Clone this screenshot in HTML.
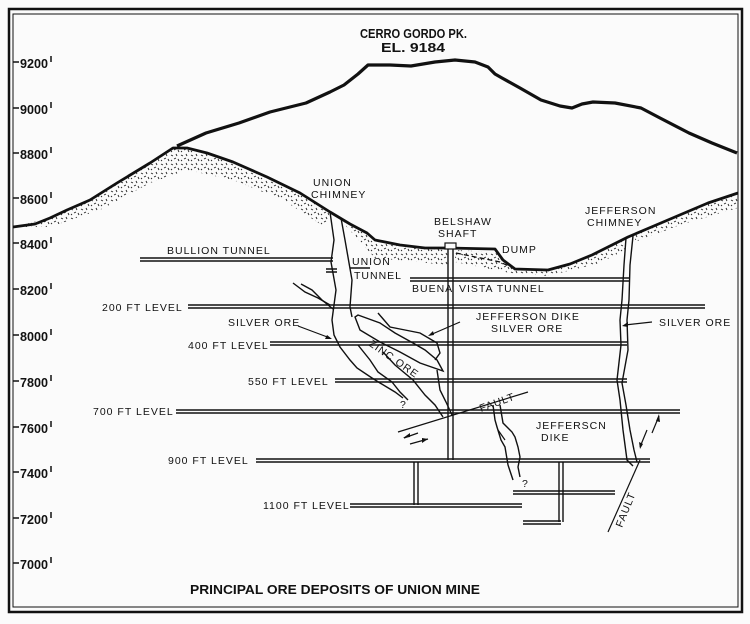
<!DOCTYPE html>
<html><head><meta charset="utf-8"><style>
html,body{margin:0;padding:0;background:#fbfbfb;}
svg{display:block;}
text{font-family:"Liberation Sans",sans-serif;fill:#111;}
.t{font-size:10.5px;letter-spacing:1px;}
.ax{font-size:13px;font-weight:bold;}
</style></head><body>
<svg width="750" height="624" viewBox="0 0 750 624" xmlns="http://www.w3.org/2000/svg">
<defs>
<pattern id="st" width="10" height="9" patternUnits="userSpaceOnUse">
<path d="M1 2l2 1M6 1l1 2M4 6l2-1M8 6l1 2M1 8l1-1" stroke="#222" stroke-width="0.9" fill="none"/>
</pattern>
</defs>
<rect width="750" height="624" fill="#fbfbfb"/>
<rect x="9" y="9" width="733" height="603" fill="none" stroke="#111" stroke-width="2.5"/>
<rect x="13" y="14" width="725" height="593" fill="none" stroke="#111" stroke-width="1"/>
<g stroke="#111" stroke-width="1.5">
<path d="M13 62h6M13 108h6M13 153h6M13 198h6M13 243h6M13 289h6M13 335h6M13 381h6M13 427h6M13 472h6M13 518h6M13 563h6"/>
</g>
<g class="ax">
<text x="20" y="68" textLength="28" lengthAdjust="spacingAndGlyphs">9200</text>
<text x="20" y="114" textLength="28" lengthAdjust="spacingAndGlyphs">9000</text>
<text x="20" y="159" textLength="28" lengthAdjust="spacingAndGlyphs">8800</text>
<text x="20" y="204" textLength="28" lengthAdjust="spacingAndGlyphs">8600</text>
<text x="20" y="249" textLength="28" lengthAdjust="spacingAndGlyphs">8400</text>
<text x="20" y="295" textLength="28" lengthAdjust="spacingAndGlyphs">8200</text>
<text x="20" y="341" textLength="28" lengthAdjust="spacingAndGlyphs">8000</text>
<text x="20" y="387" textLength="28" lengthAdjust="spacingAndGlyphs">7800</text>
<text x="20" y="433" textLength="28" lengthAdjust="spacingAndGlyphs">7600</text>
<text x="20" y="478" textLength="28" lengthAdjust="spacingAndGlyphs">7400</text>
<text x="20" y="524" textLength="28" lengthAdjust="spacingAndGlyphs">7200</text>
<text x="20" y="569" textLength="28" lengthAdjust="spacingAndGlyphs">7000</text>
</g>
<g stroke="#111" stroke-width="1.5">
<path d="M51 56v6M51 102v6M51 147v6M51 192v6M51 237v6M51 283v6M51 329v6M51 375v6M51 421v6M51 466v6M51 512v6M51 557v6"/>
</g>
<path fill="url(#st)" d="M13 227L50 218L67 210L90 200L117 183L150 163L173 148L187 148L207 153L233 162L267 177L300 193L330 212L325 227L283 200L233 180L187 170L150 183L100 210L50 227Z"/>
<path fill="url(#st)" d="M340 218L367 233L375 240L425 248L448 248L448 265L375 258L345 225Z"/>
<path fill="url(#st)" d="M455 250L495 252L503 260L515 269L548 270L592 255L625 240L625 250L600 263L548 276L510 273L455 262Z"/>
<path fill="url(#st)" d="M635 235L675 217L708 203L738 193L738 208L680 225L635 242Z"/>
<path d="M177 146L206 133L239 123L270 112L306 103L330 92L344 85L358 74L368 65L390 65L411 66L435 62L455 60L475 62L488 67L495 74L502 78L520 88L541 100L560 106L572 108L582 104L593 102L615 103L641 108L660 118L689 133L712 143L737 153" fill="none" stroke="#111" stroke-width="3.2" stroke-linejoin="round"/>
<path d="M13 227L35 224L50 218L67 210L90 200L117 183L150 163L173 148L187 148L207 153L233 162L267 177L300 193L330 212L350 224L367 233L375 240L400 245L425 248L448 248L495 249L503 260L515 269L548 270L570 264L592 255L628 237L675 217L708 203L738 193" fill="none" stroke="#111" stroke-width="2.8" stroke-linejoin="round"/>
<path d="M456 253L500 262L515 269" fill="none" stroke="#111" stroke-width="1.3" stroke-dasharray="5 3"/>
<rect x="445" y="243" width="11" height="6" fill="#fbfbfb" stroke="#111" stroke-width="1.2"/>
<g stroke="#111" stroke-width="1.4" fill="none">
<path d="M448 249V460M453 249V460"/>
<path d="M140 258H333M140 261H333"/>
<path d="M326 269H337M326 272H337"/>
<path d="M350 268H370"/>
<path d="M410 278H630M410 281H630"/>
<path d="M188 305H705M188 308H705"/>
<path d="M270 342H627M270 345H627"/>
<path d="M335 379H627M335 382H627"/>
<path d="M176 410H680M176 413H680"/>
<path d="M256 459H650M256 462H650"/>
<path d="M350 504H522M350 507H522"/>
<path d="M513 491H615M513 494H615"/>
<path d="M523 521H561M523 524H561"/>
<path d="M414 462V505M418 462V505"/>
<path d="M559 462V522M563 462V522"/>
<path d="M330 212L334 240L331 262L336 290L332 320L334 335L340 347L350 360L357 368L372 378L380 383L395 392L403 398"/>
<path d="M341 218L345 240L352 280L350 307L352 317"/>
<path d="M358 345L370 360L378 372L392 382L400 392L408 400"/>
<path d="M293 283L305 292L318 298L330 305"/>
<path d="M301 284L312 290L322 300L333 309"/>
<path d="M383 352L395 365L413 380L425 395L435 405L443 417"/>
<path d="M437 370L440 390L446 402L452 415"/>
<path d="M355 317L360 330L380 342L400 352L420 363L443 371L437 360L425 350L413 343L395 333L380 323L358 315Z"/>
<path d="M378 313L390 327L405 330L420 333L437 343L440 353L435 360"/>
<path d="M626 238L624 265L622 300L620 320L621 345L617 380L620 400L623 430L627 460L633 466"/>
<path d="M633 236L630 265L629 300L627 320L628 350L622 383L626 405L630 430L634 450L637 462"/>
<path d="M493 405L495 420L497 427L501 440L505 447L508 465L513 480"/>
<path d="M500 405L503 423L512 432L515 437L518 447L520 457L518 467L520 477"/>
</g>
<g stroke="#111" stroke-width="1.2" fill="none">
<path d="M398 432L528 392"/>
<path d="M608 532L640 460"/>
<path d="M404 438l14-5M410 444l18-5M640 447l7-17M652 433l7-17"/>
<path d="M298 326L330 338M460 322L430 335M652 322L625 325M498 430L505 440"/>
</g>
<g fill="#111">
<path d="M403 438l7-5l0 4z"/>
<path d="M428 439l-6 4l0-5z"/>
<path d="M640 449l-1-7l4 2z"/>
<path d="M659 414l1 8l-4-1z"/>
<path d="M332 339l-7 0l2-4z"/>
<path d="M428 336l5-5l1 4z"/>
<path d="M622 326l6-4l0 5z"/>
</g>
<text x="360" y="38" font-size="12.5" font-weight="bold" textLength="107" lengthAdjust="spacingAndGlyphs">CERRO GORDO PK.</text>
<text x="381" y="52" font-size="12.5" font-weight="bold" textLength="64" lengthAdjust="spacingAndGlyphs">EL. 9184</text>
<g class="t">
<text x="313" y="186">UNION</text>
<text x="311" y="198">CHIMNEY</text>
<text x="434" y="225">BELSHAW</text>
<text x="438" y="237">SHAFT</text>
<text x="502" y="253">DUMP</text>
<text x="585" y="214">JEFFERSON</text>
<text x="587" y="226">CHIMNEY</text>
<text x="167" y="254">BULLION TUNNEL</text>
<text x="352" y="265">UNION</text>
<text x="354" y="279">TUNNEL</text>
<text x="412" y="292">BUENA</text>
<text x="459" y="292">VISTA TUNNEL</text>
<text x="102" y="311">200 FT LEVEL</text>
<text x="228" y="326">SILVER ORE</text>
<text x="476" y="320">JEFFERSON DIKE</text>
<text x="491" y="332">SILVER ORE</text>
<text x="659" y="326">SILVER ORE</text>
<text x="188" y="349">400 FT LEVEL</text>
<text x="248" y="385">550 FT LEVEL</text>
<text x="93" y="415">700 FT LEVEL</text>
<text x="536" y="429">JEFFERSCN</text>
<text x="541" y="441">DIKE</text>
<text x="168" y="464">900 FT LEVEL</text>
<text x="263" y="509">1100 FT LEVEL</text>
<text x="400" y="408">?</text>
<text x="522" y="487">?</text>
<text transform="translate(368 345) rotate(35)">ZINC ORE</text>
<text transform="translate(481 412) rotate(-20)">FAULT</text>
<text transform="translate(622 528) rotate(-68)">FAULT</text>
</g>
<text x="190" y="594" font-size="13" font-weight="bold" textLength="290" lengthAdjust="spacingAndGlyphs">PRINCIPAL ORE DEPOSITS OF UNION MINE</text>
</svg>
</body></html>
